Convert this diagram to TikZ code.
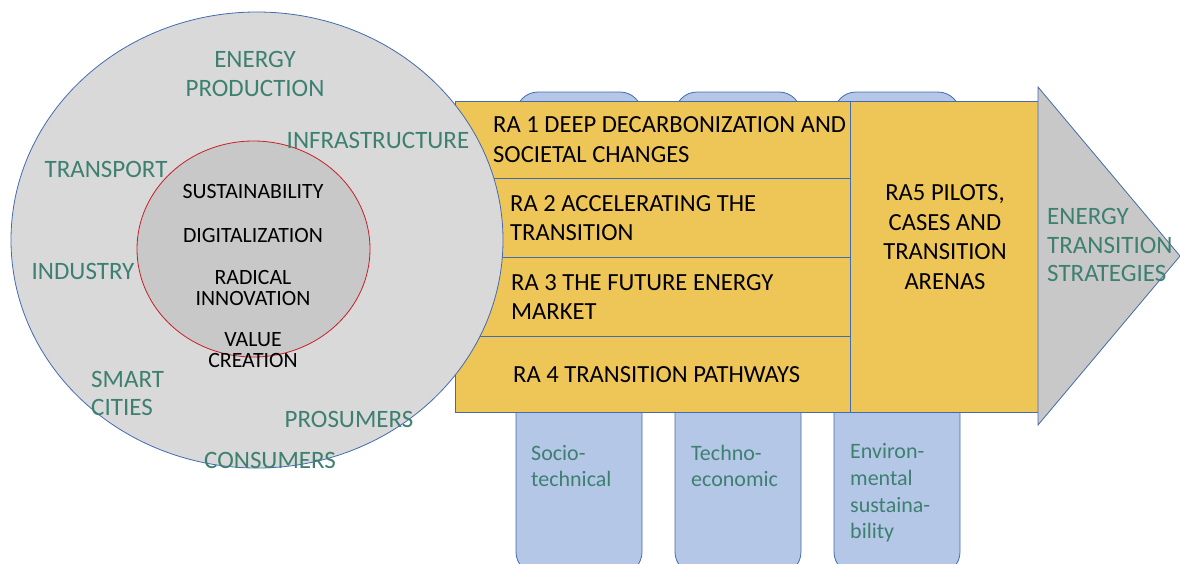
\documentclass[tikz,border=0pt]{standalone}
\usepackage{fontspec}
\setmainfont{Carlito}
\definecolor{ringgray}{RGB}{217,217,217}
\definecolor{coregray}{RGB}{200,200,200}
\definecolor{ringblue}{RGB}{68,106,176}
\definecolor{corered}{RGB}{200,30,40}
\definecolor{ragold}{RGB}{238,198,88}
\definecolor{pillarfill}{RGB}{180,199,231}
\definecolor{leafgreen}{RGB}{62,128,112}
\newcommand{\pillar}[1]{
	\draw [ringblue, thick, fill=pillarfill, rounded corners=22] (#1-63,92) rectangle (#1+63,574);
}

\begin{document}
\begin{tikzpicture}[x=1pt, y=-1pt,
	greentxt/.style={text=leafgreen, font=\fontsize{25}{28.5}\selectfont, inner sep=0pt, align=center},
	coretxt/.style={text=black, font=\fontsize{21.8}{21}\selectfont, inner sep=0pt, align=center},
	ratxt/.style={text=black, font=\fontsize{24.6}{29.5}\selectfont, inner sep=0pt, align=left, anchor=west},
	tabtxt/.style={text=leafgreen, font=\fontsize{22}{26.7}\selectfont, inner sep=0pt, align=left, anchor=west}]
\useasboundingbox (0,0) rectangle (1180,563);
\clip (0,0) rectangle (1180,563);

% pillars behind the research areas
\foreach \px in {579,738,897}{
	\pillar{\px}
}

% research areas and arrow head
\draw [ringblue, thick, fill=ragold] (455,101) rectangle (850,178);
\draw [ringblue, thick, fill=ragold] (455,178) rectangle (850,257);
\draw [ringblue, thick, fill=ragold] (455,257) rectangle (850,336);
\draw [ringblue, thick, fill=ragold] (455,336) rectangle (850,412);
\draw [ringblue, thick, fill=ragold] (850,101) rectangle (1038,412);
\draw [ringblue, thick, fill=coregray] (1038,87) -- (1180,256) -- (1038,425) -- cycle;

% circles
\draw [ringblue, thick, fill=ringgray] (257,240) ellipse [x radius=246, y radius=228];
\draw [corered, thick, fill=coregray] (253.5,249) ellipse [x radius=116.5, y radius=108];

\node [greentxt] (prod) at (255,74) {ENERGY\\PRODUCTION};
\node [greentxt] (infra) at (378,140) {INFRASTRUCTURE};
\node [greentxt] (transport) at (106,169) {TRANSPORT};
\node [greentxt] (industry) at (83,271) {INDUSTRY};
\node [greentxt, align=left, anchor=west] (cities) at (91,393.5) {SMART\\CITIES};
\node [greentxt] (prosumers) at (349,419) {PROSUMERS};
\node [greentxt] (consumers) at (270,460) {CONSUMERS};

\node [coretxt] (sust) at (253,192) {SUSTAINABILITY};
\node [coretxt] (digi) at (253,235) {DIGITALIZATION};
\node [coretxt] (radical) at (253,287.5) {RADICAL\\INNOVATION};
\node [coretxt] (value) at (253,350.5) {VALUE\\CREATION};

\node [ratxt] (ra1) at (493,139.5) {RA 1 DEEP DECARBONIZATION AND\\SOCIETAL CHANGES};
\node [ratxt] (ra2) at (510,218) {RA 2 ACCELERATING THE\\TRANSITION};
\node [ratxt] (ra3) at (511,297) {RA 3 THE FUTURE ENERGY\\MARKET};
\node [ratxt] (ra4) at (513,375) {RA 4 TRANSITION PATHWAYS};
\node [ratxt, align=center, anchor=center] (ra5) at (945,237) {RA5 PILOTS,\\CASES AND\\TRANSITION\\ARENAS};
\node [greentxt, align=left, anchor=west] (strat) at (1047,245) {ENERGY\\TRANSITION\\STRATEGIES};

\node [tabtxt] (socio) at (531,466) {Socio-\\technical};
\node [tabtxt] (techno) at (691,466) {Techno-\\economic};
\node [tabtxt] (enviro) at (850,493) {Environ-\\mental\\sustaina-\\bility};
\end{tikzpicture}
\end{document}
